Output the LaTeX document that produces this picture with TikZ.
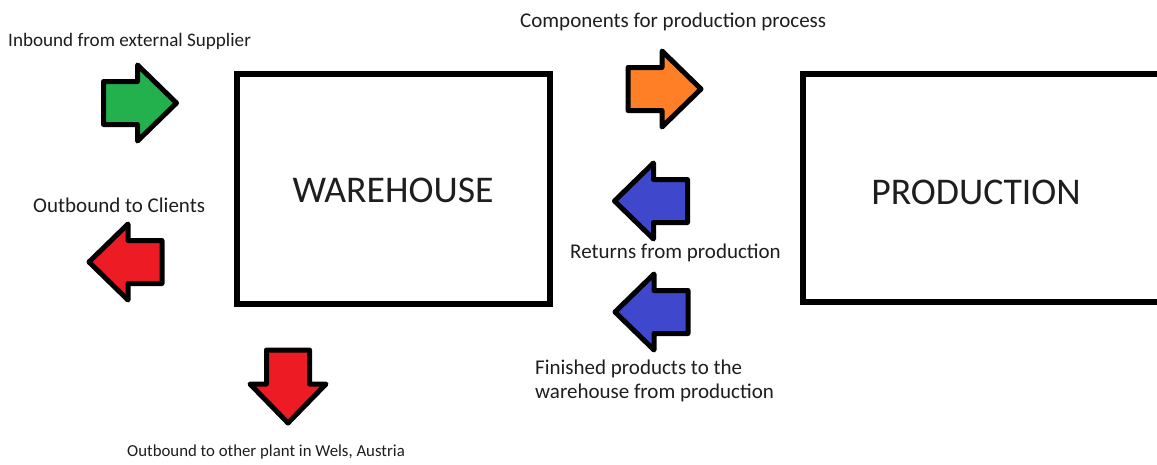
\documentclass[tikz,border=0pt]{standalone}
\usepackage{fontspec}
\setmainfont{Carlito}
\definecolor{pgreen}{HTML}{22B14C}
\definecolor{pred}{HTML}{ED1C24}
\definecolor{porange}{HTML}{FF7F27}
\definecolor{pblue}{HTML}{3F48CC}
\definecolor{ptext}{HTML}{1E1E1E}
\tikzset{
  box/.style={draw=black, line width=6pt, fill=white},
  lbl/.style={font=\fontsize{21}{24}\selectfont, text=ptext, inner sep=0pt},
  big/.style={font=\fontsize{37.7}{42}\selectfont, text=ptext, inner sep=0pt},
  pics/blockarrow/.style={code={
    \draw[line width=5pt, line join=round, fill=#1]
      (-36,-21.5) -- (-2,-21.5) -- (-2,-38) -- (37,0) -- (-2,38) -- (-2,21.5) -- (-36,21.5) -- cycle;
  }}
}
\begin{document}
\begin{tikzpicture}[x=1pt, y=-1pt]
\useasboundingbox (0,0) rectangle (1157,464);
\fill[white] (0,0) rectangle (1157,464);
\clip (0,0) rectangle (1157,464);

% boxes
\node[box, minimum width=313pt, minimum height=230pt] (warehouse) at (393.5,189) {};
\node[big] (whlabel) at (393,190) {WAREHOUSE};
\node[box, minimum width=380pt, minimum height=228pt, anchor=west] (production) at (800,188) {};
\node[big] (prodlabel) at (976,192) {PRODUCTION};

% arrows
\pic (inarrow) at (139.5,103) {blockarrow=pgreen};
\pic (comparrow) at (664,89) {blockarrow=porange};
\pic[rotate=180] (clientarrow) at (126,262) {blockarrow=pred};
\pic[rotate=180] (retarrow) at (651.5,201) {blockarrow=pblue};
\pic[rotate=180] (finarrow) at (652,312) {blockarrow=pblue};
\pic[rotate=-90] (welsarrow) at (288,386) {blockarrow=pred};

% labels
\node[lbl, font=\fontsize{19.1}{23}\selectfont, anchor=west] (inlbl) at (8,41) {Inbound from external Supplier};
\node[lbl, anchor=west] (complbl) at (520,22) {Components for production process};
\node[lbl, anchor=west] (clientlbl) at (33,205) {Outbound to Clients};
\node[lbl, anchor=west] (retlbl) at (570,253) {Returns from production};
\node[lbl, anchor=north west, align=left] (finlbl) at (535,360) {Finished products to the\\warehouse from production};
\node[lbl, font=\fontsize{16.8}{20}\selectfont, anchor=west] (welslbl) at (127,452) {Outbound to other plant in Wels, Austria};
\end{tikzpicture}
\end{document}
